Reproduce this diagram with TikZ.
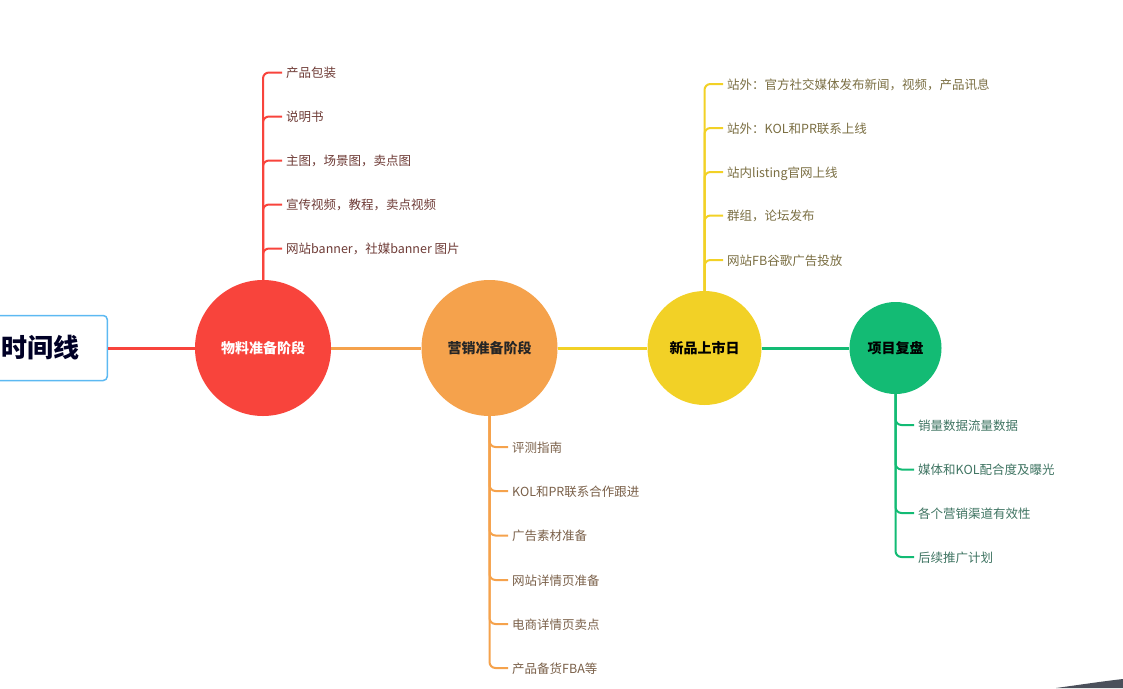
\documentclass[tikz,border=0pt]{standalone}
\usepackage{fontspec}
\setmainfont{Noto Sans CJK SC}
\usepackage{xcolor}
\definecolor{rootblue}{HTML}{5CB9F2}
\definecolor{stagered}{HTML}{F8443C}
\definecolor{stageorange}{HTML}{F5A24C}
\definecolor{stageyellow}{HTML}{F2D126}
\definecolor{stagegreen}{HTML}{13BB74}
\definecolor{textred}{HTML}{6E3B36}
\definecolor{textorange}{HTML}{7A6049}
\definecolor{textyellow}{HTML}{7A6E42}
\definecolor{textgreen}{HTML}{3F7462}
\definecolor{cornergray}{HTML}{4B505B}

\tikzset{
  stage/.style={circle,inner sep=0pt,font=\bfseries\fontsize{14}{16}\selectfont},
  leaf/.style={anchor=west,inner xsep=4pt,inner ysep=1pt,font=\fontsize{12.5}{14}\selectfont,
    text height=1em,text depth=0em},
  trunk/.style={line width=2pt,rounded corners=6pt},
  link/.style={line width=3pt}
}

\begin{document}
\begin{tikzpicture}[x=1pt,y=-1pt]
\useasboundingbox (0,0) rectangle (1123,688);
\clip (0,0) rectangle (1123,688);
% root and stages
\node [draw=rootblue,line width=1.5pt,rounded corners=4pt,fill=white,anchor=east,
  minimum height=65pt,inner xsep=28pt,font=\bfseries\fontsize{26}{28}\selectfont,
  text=black!85!blue] (root) at (108,348) {时间线};
\node [stage,fill=stagered,minimum size=136pt,text=white] (s1) at (263,348) {物料准备阶段};
\node [stage,fill=stageorange,minimum size=136pt,text=black!85] (s2) at (489.5,348) {营销准备阶段};
\node [stage,fill=stageyellow,minimum size=114pt,text=black] (s3) at (704.5,348) {新品上市日};
\node [stage,fill=stagegreen,minimum size=92pt,text=black] (s4) at (895.5,348) {项目复盘};
\draw [link,stagered] (root.east) -- (s1.west);
\draw [link,stageorange] (s1.east) -- (s2.west);
\draw [link,stageyellow] (s2.east) -- (s3.west);
\draw [link,stagegreen] (s3.east) -- (s4.west);
% material stage
\node [leaf,text=textred] (a1) at (282,72.5) {产品包装};
\node [leaf,text=textred] (a2) at (282,116.5) {说明书};
\node [leaf,text=textred] (a3) at (282,160.5) {主图，场景图，卖点图};
\node [leaf,text=textred] (a4) at (282,204.5) {宣传视频，教程，卖点视频};
\node [leaf,text=textred] (a5) at (282,248.5) {网站banner，社媒banner 图片};
\draw [trunk,stagered] (s1.north) |- (a1.west);
\draw [trunk,stagered] (s1.north) |- (a2.west);
\draw [trunk,stagered] (s1.north) |- (a3.west);
\draw [trunk,stagered] (s1.north) |- (a4.west);
\draw [trunk,stagered] (s1.north) |- (a5.west);
% marketing stage
\node [leaf,text=textorange] (b1) at (508,447) {评测指南};
\node [leaf,text=textorange] (b2) at (508,491) {KOL和PR联系合作跟进};
\node [leaf,text=textorange] (b3) at (508,535.5) {广告素材准备};
\node [leaf,text=textorange] (b4) at (508,580) {网站详情页准备};
\node [leaf,text=textorange] (b5) at (508,624) {电商详情页卖点};
\node [leaf,text=textorange] (b6) at (508,668) {产品备货FBA等};
\draw [trunk,stageorange] (s2.south) |- (b1.west);
\draw [trunk,stageorange] (s2.south) |- (b2.west);
\draw [trunk,stageorange] (s2.south) |- (b3.west);
\draw [trunk,stageorange] (s2.south) |- (b4.west);
\draw [trunk,stageorange] (s2.south) |- (b5.west);
\draw [trunk,stageorange] (s2.south) |- (b6.west);
% launch day
\node [leaf,text=textyellow] (c1) at (723,84) {站外：官方社交媒体发布新闻，视频，产品讯息};
\node [leaf,text=textyellow] (c2) at (723,128) {站外：KOL和PR联系上线};
\node [leaf,text=textyellow] (c3) at (723,172) {站内listing官网上线};
\node [leaf,text=textyellow] (c4) at (723,215.5) {群组，论坛发布};
\node [leaf,text=textyellow] (c5) at (723,260) {网站FB谷歌广告投放};
\draw [trunk,stageyellow] (s3.north) |- (c1.west);
\draw [trunk,stageyellow] (s3.north) |- (c2.west);
\draw [trunk,stageyellow] (s3.north) |- (c3.west);
\draw [trunk,stageyellow] (s3.north) |- (c4.west);
\draw [trunk,stageyellow] (s3.north) |- (c5.west);
% review
\node [leaf,text=textgreen] (d1) at (914,425) {销量数据流量数据};
\node [leaf,text=textgreen] (d2) at (914,469.5) {媒体和KOL配合度及曝光};
\node [leaf,text=textgreen] (d3) at (914,513) {各个营销渠道有效性};
\node [leaf,text=textgreen] (d4) at (914,557) {后续推广计划};
\draw [trunk,stagegreen] (s4.south) |- (d1.west);
\draw [trunk,stagegreen] (s4.south) |- (d2.west);
\draw [trunk,stagegreen] (s4.south) |- (d3.west);
\draw [trunk,stagegreen] (s4.south) |- (d4.west);
% screen corner
\fill [cornergray] (1056,688) .. controls (1085,684) and (1105,681) .. (1123,679) -- (1123,688) -- cycle;
\end{tikzpicture}
\end{document}
